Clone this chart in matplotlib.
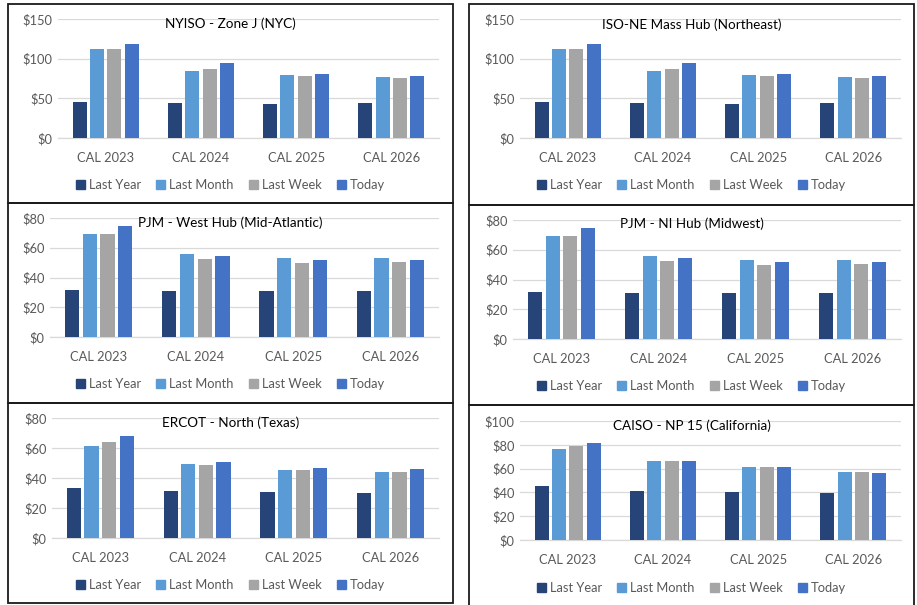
import numpy as np
import matplotlib
matplotlib.use("Agg")
import matplotlib.pyplot as plt
from matplotlib.patches import Rectangle, Patch

plt.rcParams['font.family'] = ['Lato', 'DejaVu Sans']

W, H = 917, 605

categories = ['CAL 2023', 'CAL 2024', 'CAL 2025', 'CAL 2026']
series_names = ['Last Year', 'Last Month', 'Last Week', 'Today']
colors = ['#264478', '#5B9BD5', '#A5A5A5', '#4472C4']

# values per chart, rows = series (Last Year, Last Month, Last Week, Today)
nyiso = [[45, 44, 43, 44],
         [112, 85, 79, 77],
         [112, 87, 78, 76],
         [119, 94, 81, 78]]
isone = [[45, 44, 43, 44],
         [112, 85, 79, 77],
         [112, 87, 78, 76],
         [119, 94, 81, 78]]
pjm_west = [[31.7, 30.6, 30.8, 31.0],
            [69.4, 55.5, 53.0, 53.3],
            [69.4, 52.6, 49.9, 50.1],
            [74.4, 54.4, 51.9, 51.9]]
pjm_ni = [[31.7, 30.6, 30.8, 31.0],
          [69.4, 55.5, 53.0, 53.3],
          [69.4, 52.6, 49.9, 50.1],
          [74.4, 54.4, 51.9, 51.9]]
ercot = [[33.4, 31.4, 30.5, 30.0],
         [61.5, 49.2, 45.4, 43.7],
         [64.1, 48.8, 45.4, 44.1],
         [68.2, 50.8, 46.8, 46.1]]
caiso = [[45.4, 41.0, 40.7, 39.8],
         [76.3, 66.0, 61.0, 56.8],
         [79.4, 66.6, 61.6, 57.1],
         [81.6, 66.3, 61.3, 56.3]]

titles = ['NYISO - Zone J (NYC)', 'ISO-NE Mass Hub (Northeast)',
          'PJM - West Hub (Mid-Atlantic)', 'PJM - NI Hub (Midwest)',
          'ERCOT - North (Texas)', 'CAISO - NP 15 (California)']
ticks = [[0, 50, 100, 150], [0, 50, 100, 150],
         [0, 20, 40, 60, 80], [0, 20, 40, 60, 80],
         [0, 20, 40, 60, 80], [0, 20, 40, 60, 80, 100]]
data = [nyiso, isone, pjm_west, pjm_ni, ercot, caiso]

# layout in pixels: box (x0, y0, x1, y1), plot area (x0, x1, ytop, ybottom),
# title y, legend y
boxes = [(8, 4, 453, 203), (469, 4, 914, 205),
         (8, 203, 453, 403), (469, 205, 914, 405),
         (8, 403, 453, 603), (469, 405, 914, 607)]
plots = [(58, 439, 19, 138), (520, 901, 19, 138),
         (50, 439, 218, 337), (513, 901, 220, 339),
         (52, 439, 418, 538), (520, 901, 421, 540)]
title_y = [24, 25, 223, 224, 423, 426]
legend_y = [185, 185, 384, 386, 585, 588]

fig = plt.figure(figsize=(W / 100, H / 100), dpi=100)

x = np.arange(len(categories))
pitch = 0.182
bw = 0.147

for k in range(6):
    bx0, by0, bx1, by1 = boxes[k]
    fig.patches.append(Rectangle((bx0 / W, 1 - by1 / H), (bx1 - bx0) / W, (by1 - by0) / H,
                                 transform=fig.transFigure, fill=False,
                                 edgecolor='#1a1a1a', linewidth=1.3, zorder=0))
    px0, px1, py0, py1 = plots[k]
    ax = fig.add_axes([px0 / W, 1 - py1 / H, (px1 - px0) / W, (py1 - py0) / H])
    vals = data[k]
    for i in range(4):
        ax.bar(x + (i - 1.5) * pitch, vals[i], width=bw, color=colors[i], zorder=3)
    ax.set_xlim(-0.5, 3.5)
    ax.set_ylim(0, ticks[k][-1])
    ax.set_yticks(ticks[k])
    ax.set_yticklabels(['$%d' % t for t in ticks[k]])
    ax.set_xticks(x)
    ax.set_xticklabels(categories)
    ax.grid(axis='y', color='#D9D9D9', linewidth=0.9, zorder=0)
    for s in ['top', 'right', 'left']:
        ax.spines[s].set_visible(False)
    ax.spines['bottom'].set_color('#D9D9D9')
    ax.spines['bottom'].set_linewidth(0.9)
    ax.tick_params(axis='both', length=0, labelsize=9.3, colors='#595959')
    ax.tick_params(axis='x', pad=10)
    ax.tick_params(axis='y', pad=4)
    ax.set_facecolor('none')

    cx = (bx0 + bx1) / 2 / W
    fig.text(cx, 1 - title_y[k] / H, titles[k], ha='center', va='center',
             fontsize=9.7, color='#000000')
    handles = [Patch(color=c) for c in colors]
    fig.legend(handles, series_names, loc='center', bbox_to_anchor=(cx, 1 - legend_y[k] / H),
               ncol=4, frameon=False, fontsize=9.3, handlelength=0.7, handleheight=0.7,
               handletextpad=0.3, columnspacing=1.2, labelcolor='#595959',
               borderaxespad=0, borderpad=0)

fig.savefig('out.png', dpi=100)
